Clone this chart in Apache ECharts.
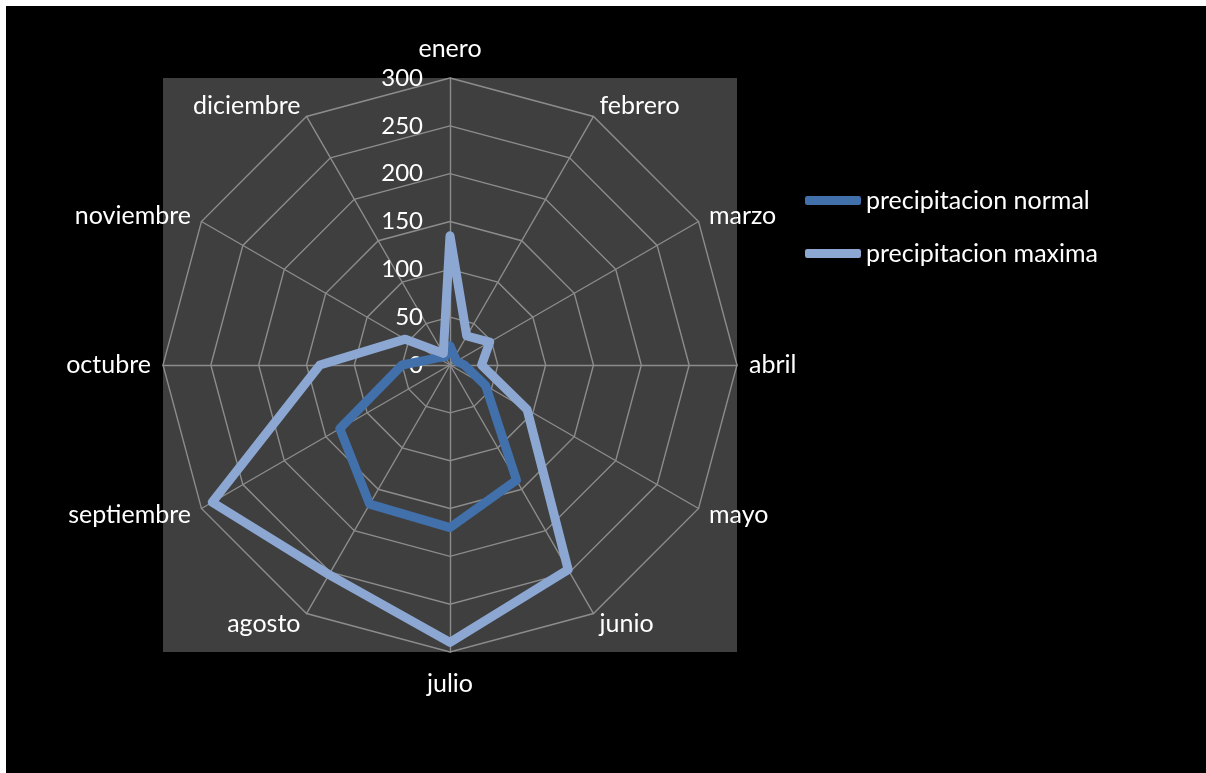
<!DOCTYPE html>
<html><head><meta charset="utf-8">
<script src="https://cdn.jsdelivr.net/npm/echarts@6/dist/echarts.min.js"></script>
<style>html,body{margin:0;padding:0;background:#fff;} #c{width:1206px;height:773px;}</style>
</head><body><div id="c"></div>
<script>
const months = ['enero','febrero','marzo','abril','mayo','junio','julio','agosto','septiembre','octubre','noviembre','diciembre'];
const normal = [20,10,8,15,43,139,170,168,133,50,15,10];
const maxima = [135,35,48,33,93,247,290,253,287,136,54,14];
const seriesNames = ['precipitacion normal','precipitacion maxima'];
const seriesColors = ['#4170aa','#8ca7d2'];
const axisMax = 300;
const splitCount = 6;

const FONT = 'Lato';
const cx = 450, cy = 365, R = 287;

// ECharts lays radar axes counter-clockwise; Excel goes clockwise.
// Display order: enero first, then the rest reversed.
const order = [0].concat(months.map((_, i) => i).slice(1).reverse());

const indicators = order.map((i) => {
  const ind = { name: months[i], max: axisMax, min: 0 };
  ind.nameGap = (i === 0) ? 17 : (i === 6 ? 19 : 12);
  if (i === 0) {
    ind.axisLabel = { show: true, color: '#fff', fontSize: 24, fontFamily: FONT, margin: 27, showMinLabel: true, showMaxLabel: true };
  }
  return ind;
});
const pick = (arr) => order.map(i => arr[i]);

const chart = echarts.init(document.getElementById('c'));
chart.setOption({
  backgroundColor: '#000',
  animation: false,
  graphic: [
    { type: 'rect', z: -5, shape: { x: 0, y: 0, width: 1206, height: 6 }, style: { fill: '#fff' } },
    { type: 'rect', z: -5, shape: { x: 0, y: 0, width: 6, height: 773 }, style: { fill: '#fff' } },
    { type: 'rect', z: -5, shape: { x: cx - R, y: cy - R, width: 2 * R, height: 2 * R }, style: { fill: '#3f3f3f' } }
  ],
  legend: {
    orient: 'vertical',
    left: 800, top: 183,
    itemWidth: 56, itemHeight: 9,
    itemGap: 28,
    icon: 'roundRect',
    textStyle: { color: '#fff', fontSize: 25, fontFamily: FONT },
    data: seriesNames
  },
  radar: {
    center: [cx, cy],
    radius: R,
    startAngle: 90,
    shape: 'polygon',
    splitNumber: splitCount,
    indicator: indicators,
    axisName: { color: '#fff', fontSize: 25, fontFamily: FONT },
    axisLine: { lineStyle: { color: '#8c8c8c', width: 1.4 } },
    splitLine: { lineStyle: { color: '#8c8c8c', width: 1.4 } },
    splitArea: { show: false },
    axisTick: { show: false },
    axisLabel: { show: false }
  },
  series: [{
    type: 'radar',
    symbol: 'none',
    data: [
      { name: seriesNames[0], value: pick(normal), lineStyle: { color: seriesColors[0], width: 9, join: 'round', cap: 'round' }, itemStyle: { color: seriesColors[0] } },
      { name: seriesNames[1], value: pick(maxima), lineStyle: { color: seriesColors[1], width: 9, join: 'round', cap: 'round' }, itemStyle: { color: seriesColors[1] } }
    ]
  }]
});
</script></body></html>
